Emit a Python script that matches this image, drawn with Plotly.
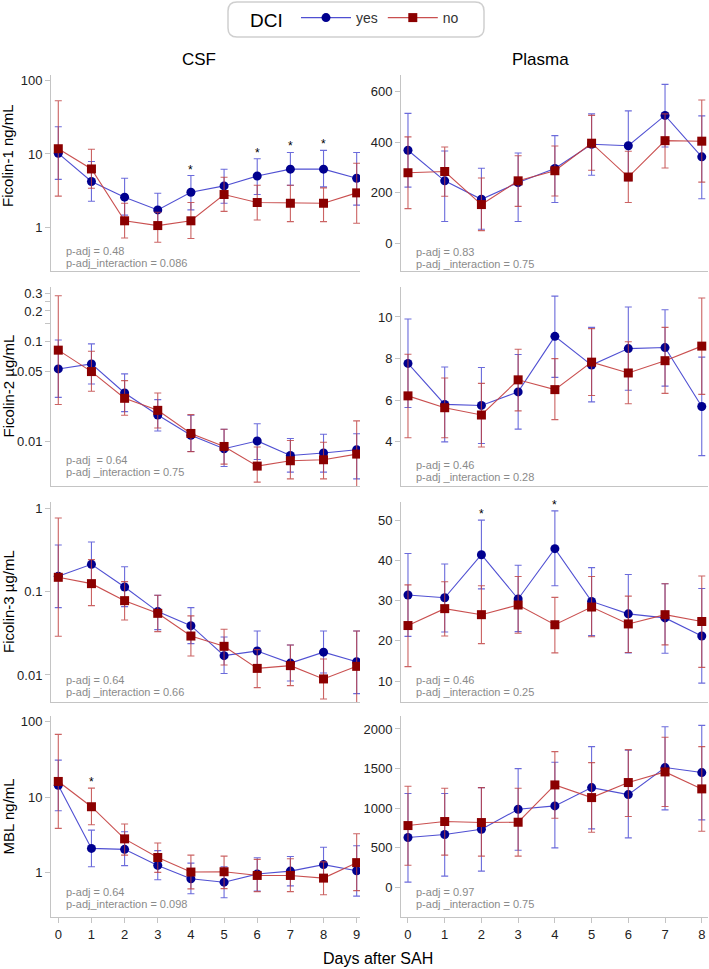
import numpy as np
import plotly.graph_objects as go

# ---------------- data ----------------
days_csf = [0, 1, 2, 3, 4, 5, 6, 7, 8, 9]
days_pl = [0, 1, 2, 3, 4, 5, 6, 7, 8]

# Ficolin-1 CSF (ng/mL)
f1_csf_yes = [10.2, 4.2, 2.57, 1.72, 3.0, 3.66, 5.0, 6.2, 6.2, 4.66]
f1_csf_yes_lo = [4.5, 2.26, 1.46, 1.05, 1.72, 2.12, 2.79, 3.74, 3.55, 2.0]
f1_csf_yes_hi = [23.6, 7.9, 4.66, 2.91, 5.07, 6.17, 8.6, 10.5, 11.2, 10.5]
f1_csf_no = [11.8, 6.24, 1.22, 1.05, 1.22, 2.79, 2.17, 2.12, 2.12, 2.94]
f1_csf_no_lo = [2.65, 3.4, 0.71, 0.62, 0.70, 1.64, 1.25, 1.19, 1.19, 1.13]
f1_csf_no_hi = [53.4, 11.6, 2.12, 1.6, 2.17, 4.8, 3.74, 3.74, 3.44, 7.46]
f1_csf_sig = [4, 6, 7, 8]

# Ficolin-1 plasma (ng/mL)
f1_pl_yes = [368, 247, 174, 240, 296, 392, 386, 506, 342]
f1_pl_yes_lo = [222, 86, 55, 86, 161, 269, 248, 381, 176]
f1_pl_yes_hi = [514, 365, 297, 357, 426, 512, 524, 629, 504]
f1_pl_no = [279, 284, 153, 247, 287, 396, 262, 406, 404]
f1_pl_no_lo = [137, 186, 50, 146, 187, 289, 161, 298, 242]
f1_pl_no_hi = [421, 381, 258, 346, 385, 506, 364, 512, 567]
f1_pl_sig = []

# Ficolin-2 CSF (ug/mL)
f2_csf_yes = [0.0528, 0.0593, 0.0304, 0.0183, 0.0115, 0.00845, 0.0101, 0.00724, 0.00765, 0.00826]
f2_csf_yes_lo = [0.0275, 0.0374, 0.0198, 0.0127, 0.00794, 0.00562, 0.0066, 0.00494, 0.00494, 0.00423]
f2_csf_yes_hi = [0.1025, 0.094, 0.0471, 0.0261, 0.0182, 0.0132, 0.015, 0.0107, 0.0118, 0.0119]
f2_csf_no = [0.0813, 0.0497, 0.0269, 0.0204, 0.012, 0.0089, 0.00567, 0.00641, 0.00656, 0.00747]
f2_csf_no_lo = [0.0233, 0.0316, 0.0182, 0.0136, 0.0079, 0.00593, 0.00392, 0.00423, 0.00423, 0.0033]
f2_csf_no_hi = [0.284, 0.0794, 0.0404, 0.0304, 0.0185, 0.0132, 0.00878, 0.0102, 0.0098, 0.016]
f2_csf_sig = []

# Ficolin-2 plasma (ug/mL)
f2_pl_yes = [7.77, 5.80, 5.75, 6.40, 9.07, 7.69, 8.48, 8.53, 5.70]
f2_pl_yes_lo = [5.65, 4.0, 3.92, 4.61, 7.1, 5.92, 6.48, 6.68, 3.34]
f2_pl_yes_hi = [9.9, 7.6, 7.57, 8.2, 11.0, 9.5, 10.48, 10.35, 8.07]
f2_pl_no = [6.21, 5.64, 5.29, 6.98, 6.51, 7.83, 7.31, 7.9, 8.6]
f2_pl_no_lo = [4.2, 4.2, 3.75, 5.49, 5.07, 6.23, 5.83, 6.33, 6.28]
f2_pl_no_hi = [8.21, 7.07, 6.81, 8.45, 8.0, 9.44, 8.81, 9.5, 10.91]
f2_pl_sig = []

# Ficolin-3 CSF (ug/mL)
f3_csf_yes = [0.1536, 0.214, 0.1143, 0.0578, 0.0392, 0.01707, 0.01945, 0.0139, 0.0188, 0.01445]
f3_csf_yes_lo = [0.0645, 0.118, 0.0664, 0.0351, 0.0238, 0.0104, 0.0112, 0.00847, 0.01056, 0.00597]
f3_csf_yes_hi = [0.366, 0.397, 0.2, 0.0908, 0.0645, 0.0286, 0.0338, 0.0229, 0.0338, 0.0338]
f3_csf_no = [0.1494, 0.1254, 0.0783, 0.0551, 0.0294, 0.0221, 0.012, 0.01295, 0.00896, 0.0127]
f3_csf_no_lo = [0.0292, 0.0682, 0.0459, 0.0332, 0.0169, 0.0132, 0.00704, 0.00745, 0.00514, 0.0046]
f3_csf_no_hi = [0.772, 0.244, 0.1325, 0.0908, 0.0513, 0.0354, 0.0202, 0.0229, 0.01557, 0.0338]
f3_csf_sig = []

# Ficolin-3 plasma (ug/mL)
f3_pl_yes = [31.4, 30.7, 41.4, 30.4, 42.9, 29.8, 26.7, 25.7, 21.2]
f3_pl_yes_lo = [21.1, 22.2, 32.9, 22.3, 33.7, 21.3, 17.0, 16.9, 9.5]
f3_pl_yes_hi = [41.7, 39.1, 50.0, 38.8, 52.3, 38.2, 36.5, 34.2, 33.0]
f3_pl_no = [23.8, 28.0, 26.5, 28.9, 24.0, 28.4, 24.2, 26.5, 24.8]
f3_pl_no_lo = [13.6, 21.2, 19.3, 21.9, 17.0, 21.0, 17.1, 19.0, 13.4]
f3_pl_no_hi = [33.9, 34.7, 33.7, 36.0, 30.8, 36.0, 31.1, 34.2, 36.1]
f3_pl_sig = [2, 4]

# MBL CSF (ng/mL)
mbl_csf_yes = [14.4, 2.1, 2.04, 1.25, 0.83, 0.749, 0.96, 1.05, 1.28, 1.06]
mbl_csf_yes_lo = [6.62, 1.2, 1.24, 0.805, 0.527, 0.466, 0.573, 0.669, 0.78, 0.49]
mbl_csf_yes_hi = [31.1, 3.67, 3.49, 1.96, 1.34, 1.2, 1.58, 1.64, 2.17, 2.28]
mbl_csf_no = [16.2, 7.49, 2.81, 1.59, 1.02, 1.03, 0.92, 0.92, 0.848, 1.36]
mbl_csf_no_lo = [3.87, 4.33, 1.71, 1.01, 0.61, 0.616, 0.561, 0.561, 0.511, 0.578]
mbl_csf_no_hi = [68.2, 13.2, 4.42, 2.48, 1.71, 1.66, 1.5, 1.53, 1.39, 3.28]
mbl_csf_sig = [1]

# MBL plasma (ng/mL)
mbl_pl_yes = [630, 668, 735, 987, 1029, 1260, 1172, 1513, 1450]
mbl_pl_yes_lo = [67, 143, 206, 470, 500, 739, 626, 979, 853]
mbl_pl_yes_hi = [1185, 1185, 1260, 1500, 1580, 1777, 1731, 2029, 2046]
mbl_pl_no = [781, 832, 819, 823, 1294, 1134, 1324, 1458, 1244]
mbl_pl_no_lo = [281, 408, 395, 395, 874, 697, 895, 1021, 710]
mbl_pl_no_hi = [1277, 1252, 1260, 1252, 1714, 1576, 1740, 1895, 1777]
mbl_pl_sig = []

row_titles = ["Ficolin-1 ng/mL", "Ficolin-2 µg/mL", "Ficolin-3 µg/mL", "MBL ng/mL"]
col_titles = ["CSF", "Plasma"]
p_texts = [
    ("p-adj = 0.48", "p-adj_interaction = 0.086"),
    ("p-adj = 0.83", "p-adj _interaction = 0.75"),
    ("p-adj  = 0.64", "p-adj _interaction = 0.75"),
    ("p-adj = 0.46", "p-adj _interaction = 0.28"),
    ("p-adj = 0.64", "p-adj _interaction = 0.66"),
    ("p-adj = 0.46", "p-adj _interaction = 0.25"),
    ("p-adj = 0.64", "p-adj_interaction = 0.098"),
    ("p-adj = 0.97", "p-adj _interaction = 0.75"),
]

y_tickvals = [
    [1, 10, 100],
    [0, 200, 400, 600],
    [0.01, 0.05, 0.1, 0.15, 0.2, 0.25, 0.3],
    [4, 6, 8, 10],
    [0.01, 0.1, 1],
    [10, 20, 30, 40, 50],
    [1, 10, 100],
    [0, 500, 1000, 1500, 2000],
]
y_ticktext = [
    ["1", "10", "100"],
    ["0", "200", "400", "600"],
    ["0.01", "0.05", "0.1", "", "0.2", "", "0.3"],
    ["4", "6", "8", "10"],
    ["0.01", "0.1", "1"],
    ["10", "20", "30", "40", "50"],
    ["1", "10", "100"],
    ["0", "500", "1000", "1500", "2000"],
]

panels = [
    (days_csf, f1_csf_yes, f1_csf_yes_lo, f1_csf_yes_hi, f1_csf_no, f1_csf_no_lo, f1_csf_no_hi, f1_csf_sig),
    (days_pl, f1_pl_yes, f1_pl_yes_lo, f1_pl_yes_hi, f1_pl_no, f1_pl_no_lo, f1_pl_no_hi, f1_pl_sig),
    (days_csf, f2_csf_yes, f2_csf_yes_lo, f2_csf_yes_hi, f2_csf_no, f2_csf_no_lo, f2_csf_no_hi, f2_csf_sig),
    (days_pl, f2_pl_yes, f2_pl_yes_lo, f2_pl_yes_hi, f2_pl_no, f2_pl_no_lo, f2_pl_no_hi, f2_pl_sig),
    (days_csf, f3_csf_yes, f3_csf_yes_lo, f3_csf_yes_hi, f3_csf_no, f3_csf_no_lo, f3_csf_no_hi, f3_csf_sig),
    (days_pl, f3_pl_yes, f3_pl_yes_lo, f3_pl_yes_hi, f3_pl_no, f3_pl_no_lo, f3_pl_no_hi, f3_pl_sig),
    (days_csf, mbl_csf_yes, mbl_csf_yes_lo, mbl_csf_yes_hi, mbl_csf_no, mbl_csf_no_lo, mbl_csf_no_hi, mbl_csf_sig),
    (days_pl, mbl_pl_yes, mbl_pl_yes_lo, mbl_pl_yes_hi, mbl_pl_no, mbl_pl_no_lo, mbl_pl_no_hi, mbl_pl_sig),
]

# ---------------- layout geometry (pixels) ----------------
W, H = 709, 969
FONT = "Liberation Sans, Arial, sans-serif"
row_px = [(75, 271), (287, 486), (502, 702), (716, 917)]
col_px = [(51, 360), (401, 708)]
y_ranges = [[-0.6, 2.08], [-110, 666], [-2.445, -0.46], [1.88, 11.44],
            [-2.325, 0.08], [4.8, 54.5], [-0.587, 2.077], [-373, 2164]]
x_ranges = [[-0.22, 9.1], [-0.19, 8.17]]
p_shift = [20, 19, 26, 21, 22, 22, 25, 25]
ytitle_pos = [0.587, 0.5, 0.5, 0.5]

BLUE_M = "#00008f"
BLUE_L = "rgba(60,60,205,0.9)"
BLUE_E = "rgba(70,70,210,0.8)"
RED_M = "#8b0000"
RED_L = "rgba(195,60,60,0.9)"
RED_E = "rgba(190,60,60,0.8)"
AX_COL = "#c4c4c4"

fig = go.Figure()
layout = {}
annotations = []

for i, (days, ym, ylo, yhi, nm, nlo, nhi, sig) in enumerate(panels):
    r, c = divmod(i, 2)
    k = i + 1
    xa = "x" if k == 1 else f"x{k}"
    ya = "y" if k == 1 else f"y{k}"
    is_log = (c == 0)
    for name, mean, lo, hi, mcol, lcol, ecol, sym in [
        ("yes", ym, ylo, yhi, BLUE_M, BLUE_L, BLUE_E, "circle"),
        ("no", nm, nlo, nhi, RED_M, RED_L, RED_E, "square"),
    ]:
        mean_a = np.array(mean, float)
        fig.add_trace(go.Scatter(
            x=days, y=mean, mode="lines+markers", name=name,
            legendgroup=name, showlegend=(i == 0),
            line=dict(color=lcol, width=1.1),
            marker=dict(color=mcol, size=9, symbol=sym, line=dict(width=0)),
            error_y=dict(type="data", symmetric=False,
                         array=(np.array(hi, float) - mean_a).tolist(),
                         arrayminus=(mean_a - np.array(lo, float)).tolist(),
                         color=ecol, thickness=1.1, width=3.5),
            xaxis=xa, yaxis=ya,
        ))
    # significance stars
    for d in sig:
        top = max(yhi[d], nhi[d])
        annotations.append(dict(
            x=days[d], y=(np.log10(top) if is_log else top), xref=xa, yref=ya,
            text="*", showarrow=False, yanchor="bottom", yshift=-3,
            font=dict(family=FONT, size=12, color="black")))
    # p-value texts
    t1, t2 = p_texts[i]
    for txt, sh in [(t1, p_shift[i]), (t2, p_shift[i] - 12)]:
        annotations.append(dict(
            x=(13 / (col_px[c][1] - col_px[c][0])), y=0, xref=f"{xa} domain", yref=f"{ya} domain",
            text=txt, showarrow=False, xanchor="left", yanchor="middle", yshift=sh,
            font=dict(family=FONT, size=11, color="#8a8a8a")))

    x0p, x1p = col_px[c]
    y0p, y1p = row_px[r]
    axname_x = "xaxis" if k == 1 else f"xaxis{k}"
    axname_y = "yaxis" if k == 1 else f"yaxis{k}"
    bottom = (r == 3)
    layout[axname_x] = dict(
        domain=[x0p / W, x1p / W], anchor=ya, range=x_ranges[c],
        showline=True, linecolor=AX_COL, linewidth=1, showgrid=False, zeroline=False,
        tickmode="array", tickvals=days, ticktext=[str(d) for d in days],
        showticklabels=bottom, ticks="outside" if bottom else "",
        ticklen=5, tickcolor=AX_COL,
        tickfont=dict(family=FONT, size=13, color="#222"), automargin=False,
    )
    layout[axname_y] = dict(
        domain=[1 - y1p / H, 1 - y0p / H], anchor=xa, range=y_ranges[i],
        type="log" if is_log else "linear",
        showline=True, linecolor=AX_COL, linewidth=1, showgrid=False, zeroline=False,
        tickmode="array", tickvals=y_tickvals[i], ticktext=y_ticktext[i],
        ticks="outside", ticklen=5, tickcolor=AX_COL,
        tickfont=dict(family=FONT, size=13, color="#222"), automargin=False,
    )
    if c == 0:
        annotations.append(dict(
            x=8 / W, y=ytitle_pos[r], xref="paper", yref=f"{ya} domain",
            text=row_titles[r], textangle=-90, showarrow=False,
            xanchor="center", yanchor="middle",
            font=dict(family=FONT, size=15, color="black")))

# column titles
annotations.append(dict(x=199 / W, y=1 - 59 / H, xref="paper", yref="paper", text=col_titles[0],
                        showarrow=False, xanchor="center", yanchor="middle",
                        font=dict(family=FONT, size=17, color="black")))
annotations.append(dict(x=540 / W, y=1 - 59 / H, xref="paper", yref="paper", text=col_titles[1],
                        showarrow=False, xanchor="center", yanchor="middle",
                        font=dict(family=FONT, size=17, color="black")))
# x title
annotations.append(dict(x=378 / W, y=1 - 958 / H, xref="paper", yref="paper", text="Days after SAH",
                        showarrow=False, xanchor="center", yanchor="middle",
                        font=dict(family=FONT, size=16, color="black")))

# rounded legend frame
lx0, lx1 = 228 / W, 484 / W
ly1, ly0 = 1 - 2 / H, 1 - 37 / H
rx, ry = 9 / W, 9 / H
path = (f"M {lx0+rx},{ly1} L {lx1-rx},{ly1} Q {lx1},{ly1} {lx1},{ly1-ry} "
        f"L {lx1},{ly0+ry} Q {lx1},{ly0} {lx1-rx},{ly0} L {lx0+rx},{ly0} "
        f"Q {lx0},{ly0} {lx0},{ly0+ry} L {lx0},{ly1-ry} Q {lx0},{ly1} {lx0+rx},{ly1} Z")

fig.update_layout(
    width=W, height=H,
    margin=dict(l=0, r=0, t=0, b=0),
    paper_bgcolor="white", plot_bgcolor="white",
    font=dict(family=FONT),
    showlegend=True,
    legend=dict(orientation="h", x=356 / W, xanchor="center", y=1 - 19.5 / H, yanchor="middle",
                title=dict(text="DCI ", font=dict(family=FONT, size=19, color="black")),
                font=dict(family=FONT, size=14, color="#333"),
                bgcolor="rgba(0,0,0,0)", borderwidth=0, itemwidth=50),
    shapes=[dict(type="path", path=path, xref="paper", yref="paper",
                 line=dict(color="#cfcfcf", width=1.5), fillcolor="rgba(0,0,0,0)")],
    annotations=annotations,
    **layout,
)

fig.write_html("out.html", config={"displayModeBar": False},
               post_script="document.body.style.margin='0px';document.body.style.padding='0px';")
